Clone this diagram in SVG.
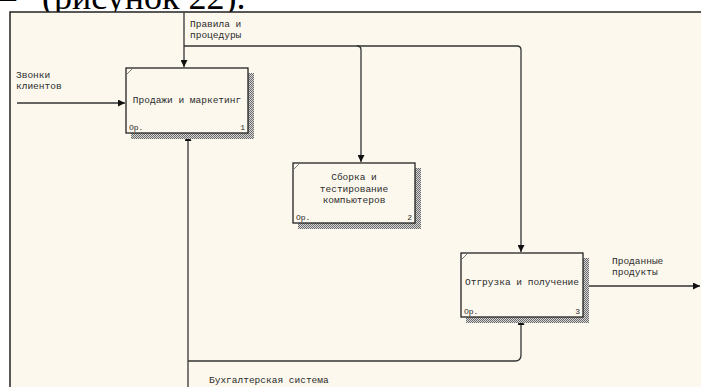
<svg xmlns="http://www.w3.org/2000/svg" width="701" height="387" viewBox="0 0 701 387">
<defs>
<style>
.t{font-family:"Liberation Mono",monospace;font-size:9.5px;fill:#2a2a2a}
.big{font-family:"Liberation Serif","Times New Roman",serif;font-size:36px;fill:#000}
.box{fill:#fcf8ee;stroke:#222;stroke-width:1.3}
.sh{fill:url(#hatch)}
.c{fill:none;stroke:#333;stroke-width:1.3}
.tick{stroke:#555;stroke-width:0.8}
</style>
<pattern id="hatch" width="2" height="2" patternUnits="userSpaceOnUse">
<rect width="2" height="2" fill="#d8d8d8"/>
<rect width="1" height="1" fill="#6a6a6a"/>
<rect x="1" y="1" width="1" height="1" fill="#6a6a6a"/>
</pattern>
<marker id="ah" viewBox="0 0 10 10" refX="10" refY="5" markerWidth="7" markerHeight="7" markerUnits="userSpaceOnUse" orient="auto">
<path d="M0,0 L10,5 L0,10 z" fill="#111"/>
</marker>
</defs>
<rect width="701" height="387" fill="#fff"/>
<text class="big" y="9"><tspan x="-2">–</tspan><tspan x="33"> (рисунок 22).</tspan></text>
<rect x="10" y="12" width="691" height="375" fill="#fcf8ee"/>
<path d="M10,387 V12 H701" fill="none" stroke="#222" stroke-width="1.5"/>

<g id="connectors">
<path class="c" d="M184,12 V67" marker-end="url(#ah)"/>
<path class="c" d="M184,46 H357 Q361,46 361,50 V162" marker-end="url(#ah)"/>
<path class="c" d="M357,46 H517 Q521,46 521,50 V252" marker-end="url(#ah)"/>
<path class="c" d="M17,103 H125" marker-end="url(#ah)"/>
<path class="c" d="M188,387 V134" marker-end="url(#ah)"/>
<path class="c" d="M188,361 H515 Q521,361 521,355 V318" marker-end="url(#ah)"/>
<path class="c" d="M584,286 H700" marker-end="url(#ah)"/>
<text class="t" x="190" y="27">Правила и</text>
<text class="t" x="190" y="38">процедуры</text>
<text class="t" x="16" y="78">Звонки</text>
<text class="t" x="16" y="89">клиентов</text>
<text class="t" x="612" y="264">Проданные</text>
<text class="t" x="612" y="275">продукты</text>
<text class="t" x="209" y="383">Бухгалтерская система</text>
</g>

<g id="node1">
<rect class="sh" x="248" y="73" width="6" height="66"/>
<rect class="sh" x="131" y="133" width="123" height="6"/>
<rect class="box" x="126" y="68" width="122" height="65"/>
<line class="tick" x1="127" y1="74" x2="132" y2="69"/>
<text class="t" x="187" y="103" text-anchor="middle">Продажи и маркетинг</text>
<text class="t" x="129" y="130" style="font-size:8px">Ор.</text>
<text class="t" x="245" y="130" text-anchor="end" style="font-size:8px">1</text>
</g>

<g id="node2">
<rect class="sh" x="415" y="168" width="6" height="61"/>
<rect class="sh" x="298" y="223" width="123" height="6"/>
<rect class="box" x="293" y="163" width="122" height="60"/>
<line class="tick" x1="294" y1="169" x2="299" y2="164"/>
<text class="t" x="354" y="180" text-anchor="middle">Сборка и</text>
<text class="t" x="354" y="192" text-anchor="middle">тестирование</text>
<text class="t" x="354" y="203" text-anchor="middle">компьютеров</text>
<text class="t" x="296" y="220" style="font-size:8px">Ор.</text>
<text class="t" x="412" y="220" text-anchor="end" style="font-size:8px">2</text>
</g>

<g id="node3">
<rect class="sh" x="583" y="258" width="6" height="65"/>
<rect class="sh" x="466" y="317" width="123" height="6"/>
<rect class="box" x="461" y="253" width="122" height="64"/>
<line class="tick" x1="462" y1="259" x2="467" y2="254"/>
<text class="t" x="522" y="285" text-anchor="middle">Отгрузка и получение</text>
<text class="t" x="464" y="314" style="font-size:8px">Ор.</text>
<text class="t" x="580" y="314" text-anchor="end" style="font-size:8px">3</text>
</g>
</svg>
